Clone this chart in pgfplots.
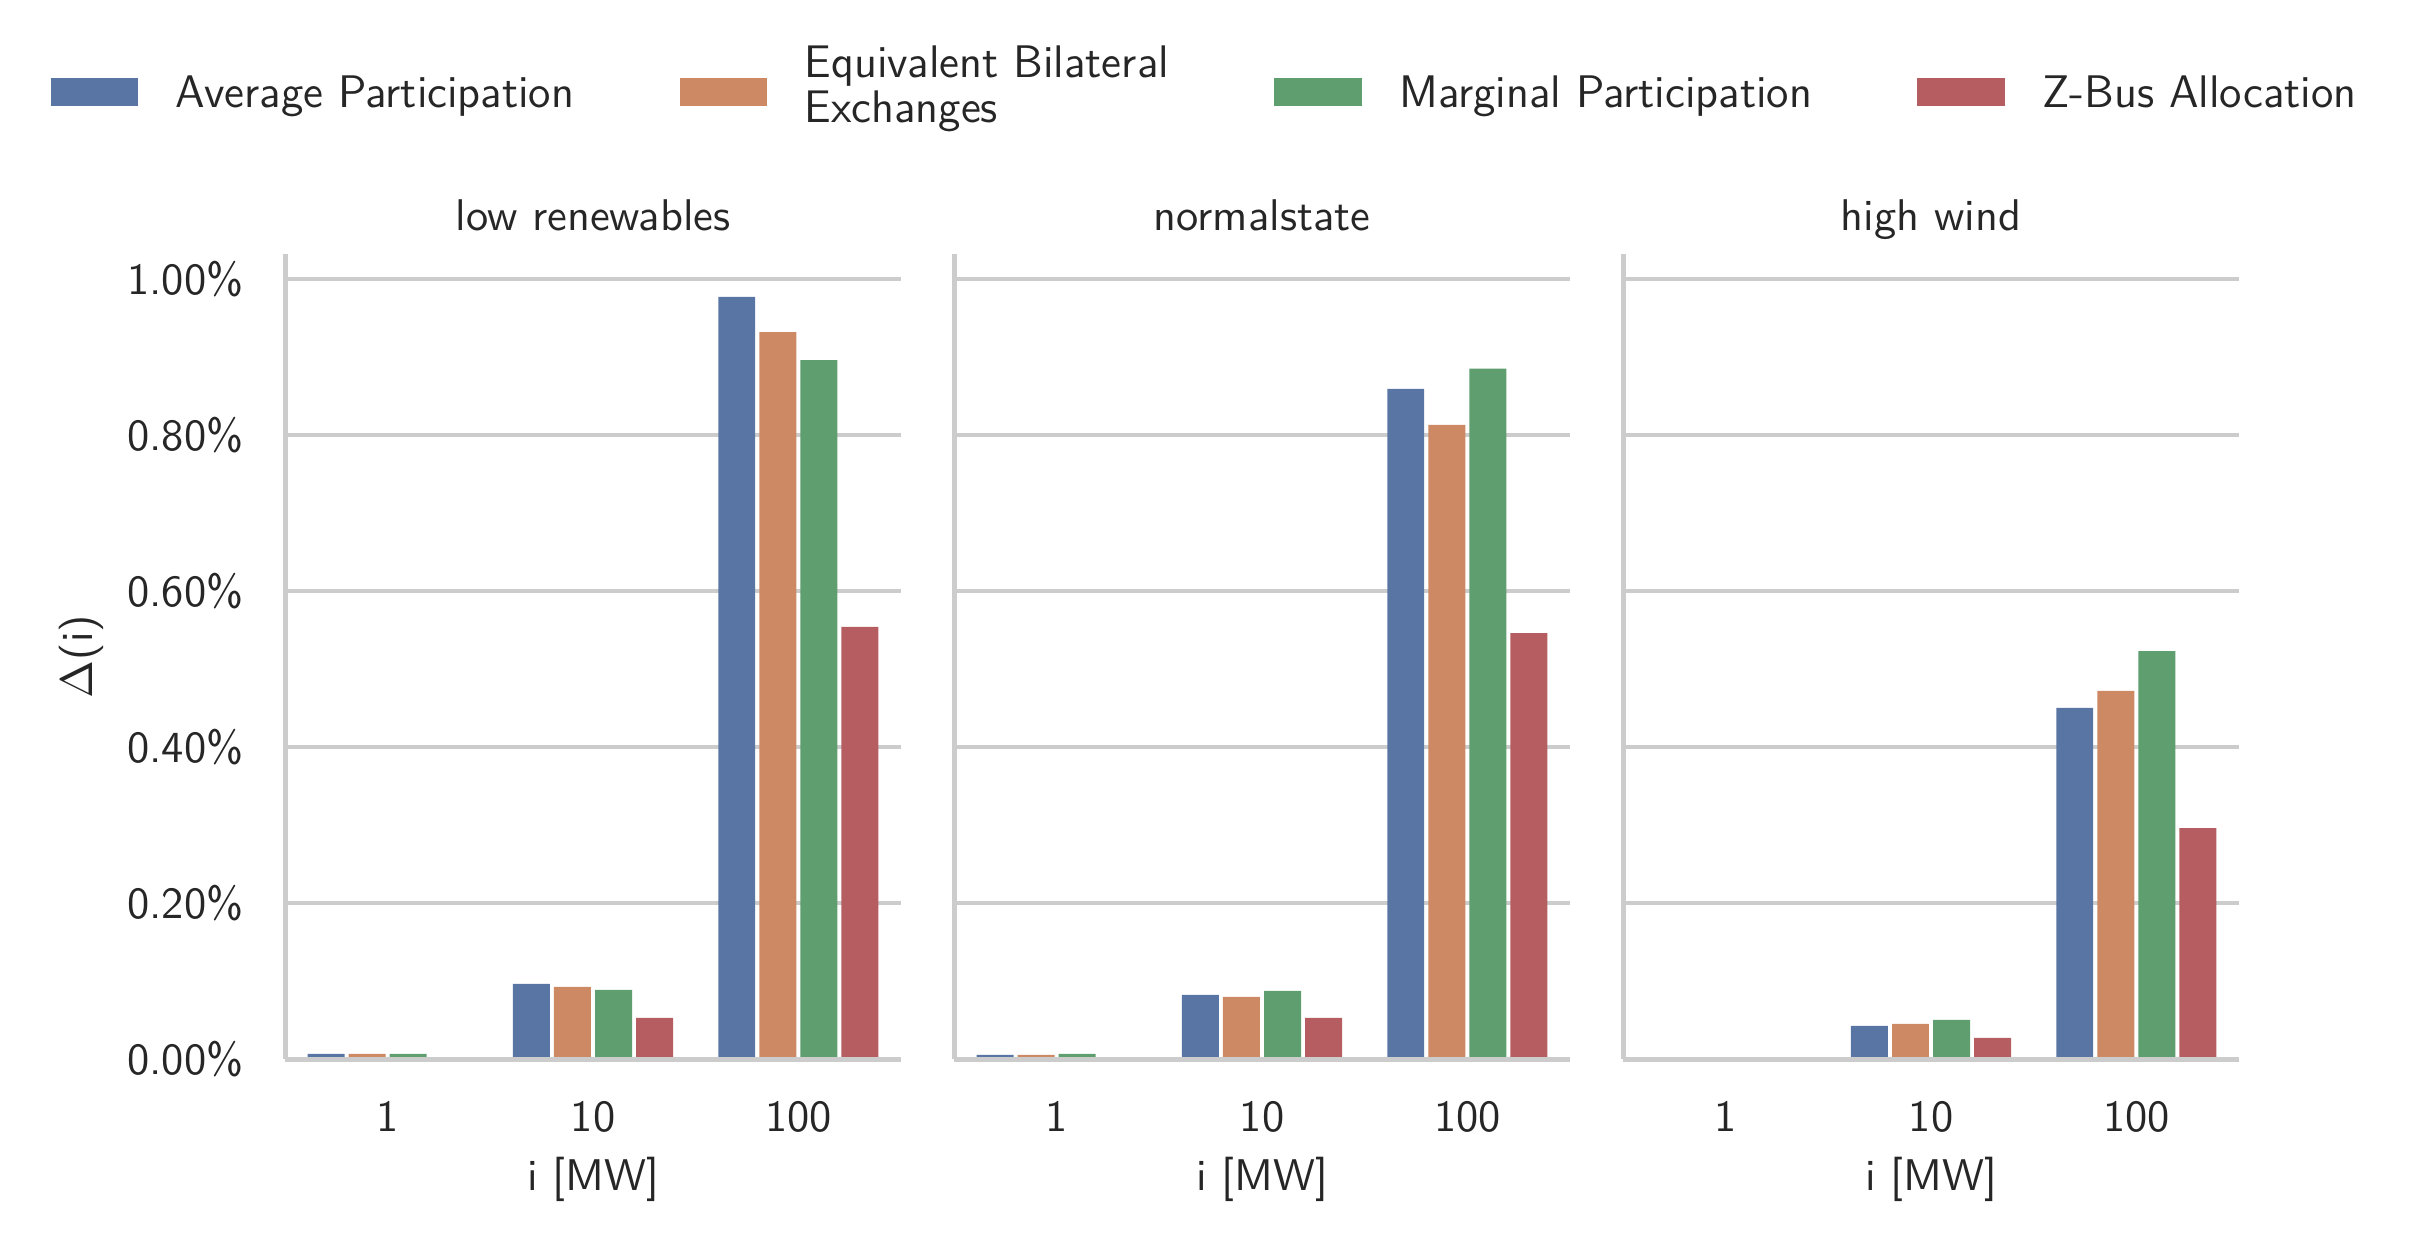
\documentclass[border=0pt]{standalone}
\usepackage{pgfplots}
\pgfplotsset{compat=1.18}
\definecolor{cA}{HTML}{5975A4}
\definecolor{cE}{HTML}{CC8963}
\definecolor{cM}{HTML}{5F9E6E}
\definecolor{cZ}{HTML}{B55D60}
\definecolor{gridgray}{HTML}{CCCCCC}
\definecolor{textgray}{HTML}{262626}
\newcommand{\fs}{\sffamily\fontsize{10.7}{11.3}\selectfont}
\newcommand{\lfs}{\sffamily\fontsize{11}{10.8}\selectfont}
\pgfplotsset{
  panel/.style={
    scale only axis, width=147.84bp, height=193.2bp,
    xmin=-0.5, xmax=2.5, ymin=0, ymax=1.032,
    clip=false,
    xtick={0,1,2}, xticklabels={1,10,100},
    ytick={0,0.2,0.4,0.6,0.8,1.0},
    axis x line*=bottom, axis y line*=left,
    axis line style={color=gridgray, line width=1.2bp, -},
    ymajorgrids, grid style={color=gridgray, line width=1bp},
    major tick length=0pt,
    tick label style={color=textgray, font=\fs},
    xticklabel style={yshift=-6.7bp},
    yticklabel style={xshift=-6.5bp},
    ybar, bar width=0.18,
    xlabel={i [MW]},
    xlabel style={font=\fs, color=textgray, at={(axis description cs:0.5,-0.150)}, anchor=center},
    title style={font=\fs, color=textgray, at={(axis description cs:0.5,1)}, anchor=base, yshift=-0.3bp},
    legend image code/.code={\fill[##1,draw=none] (0bp,-2.65bp) rectangle (21bp,4.05bp);},
  },
  spine/.style={sharp plot, no marks, color=gridgray, line width=1.2bp, forget plot},
}
\begin{document}
\begin{tikzpicture}
\useasboundingbox (0,0) rectangle (579.6bp,-296.64bp);
% panel 1
\begin{axis}[panel, at={(68.4bp,-60.96bp)}, anchor=north west,
  title={low renewables},
  yticklabels={0.00\%,0.20\%,0.40\%,0.60\%,0.80\%,1.00\%},
  ylabel={$\Delta$(i)},
  ylabel style={font=\fs, color=textgray, at={(axis description cs:-0.331,0.5)}, anchor=center},
  legend columns=4,
  legend cell align=left,
  legend style={at={(axis description cs:-0.380,1.1974)}, anchor=west, draw=none, fill=none,
    inner sep=0pt, outer sep=0pt, font=\lfs, text=textgray,
    /tikz/every odd column/.append style={column sep=7bp},
    /tikz/every even column/.append style={column sep=23.3bp}},
]
\addplot[fill=cA, draw=none, bar shift=-0.3] coordinates {(0,0.0067) (1,0.0964) (2,0.977)};
\addlegendentry{Average Participation}
\addplot[fill=cE, draw=none, bar shift=-0.1] coordinates {(0,0.0067) (1,0.0925) (2,0.932)};
\addlegendentry{\raisebox{1.3bp}[7.5bp][2.3bp]{\begin{tabular}{@{}l@{}}Equivalent Bilateral\\Exchanges\end{tabular}}}
\addplot[fill=cM, draw=none, bar shift=0.1] coordinates {(0,0.0067) (1,0.0887) (2,0.896)};
\addlegendentry{Marginal Participation}
\addplot[fill=cZ, draw=none, bar shift=0.3] coordinates {(1,0.0528) (2,0.554)};
\addlegendentry{Z-Bus Allocation}
\addplot[spine] coordinates {(-0.5,0) (2.5,0)};
\end{axis}
% panel 2
\begin{axis}[panel, at={(228.96bp,-60.96bp)}, anchor=north west,
  title={normalstate}, yticklabels={}]
\addplot[fill=cA, draw=none, bar shift=-0.3] coordinates {(0,0.0054) (1,0.0823) (2,0.859)};
\addplot[fill=cE, draw=none, bar shift=-0.1] coordinates {(0,0.0054) (1,0.0797) (2,0.813)};
\addplot[fill=cM, draw=none, bar shift=0.1] coordinates {(0,0.0067) (1,0.0874) (2,0.885)};
\addplot[fill=cZ, draw=none, bar shift=0.3] coordinates {(1,0.0528) (2,0.546)};
\addplot[spine] coordinates {(-0.5,0) (2.5,0)};
\end{axis}
% panel 3
\begin{axis}[panel, at={(389.52bp,-60.96bp)}, anchor=north west,
  title={high wind}, yticklabels={}]
\addplot[fill=cA, draw=none, bar shift=-0.3] coordinates {(1,0.0425) (2,0.450)};
\addplot[fill=cE, draw=none, bar shift=-0.1] coordinates {(1,0.0451) (2,0.472)};
\addplot[fill=cM, draw=none, bar shift=0.1] coordinates {(1,0.0502) (2,0.523)};
\addplot[fill=cZ, draw=none, bar shift=0.3] coordinates {(1,0.0271) (2,0.296)};
\addplot[spine] coordinates {(-0.5,0) (2.5,0)};
\end{axis}
\end{tikzpicture}
\end{document}
